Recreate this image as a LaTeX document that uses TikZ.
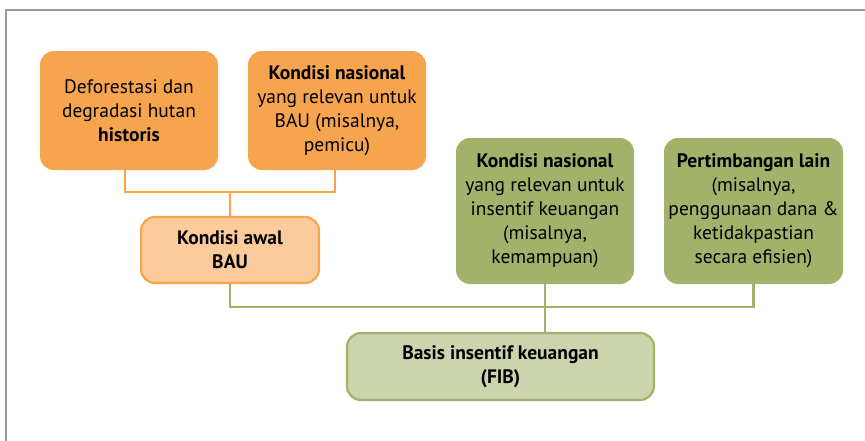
\documentclass[tikz,border=0pt]{standalone}
\usepackage{fontspec}
\setmainfont{PT Sans}
\definecolor{orng}{HTML}{F7A44F}
\definecolor{lorng}{HTML}{FBCB9B}
\definecolor{grn}{HTML}{A2B26A}
\definecolor{lgrn}{HTML}{CCD4AD}
\definecolor{frm}{HTML}{9A9A9A}
\tikzset{
  x=1pt, y=-1pt,
  txt/.style={font=\fontsize{19.5}{24}\selectfont, align=center, text=black},
  obox/.style={txt, fill=orng, draw=none, rounded corners=14pt, inner sep=0pt},
  lobox/.style={txt, fill=lorng, draw=orng, line width=2.2pt, rounded corners=14pt, inner sep=0pt},
  gbox/.style={txt, fill=grn, draw=none, rounded corners=14pt, inner sep=0pt},
  lgbox/.style={txt, fill=lgrn, draw=grn, line width=2.2pt, rounded corners=14pt, inner sep=0pt},
  olink/.style={draw=orng, line width=2.2pt},
  glink/.style={draw=grn, line width=2.2pt},
}
\begin{document}
\begin{tikzpicture}
\useasboundingbox (0,0) rectangle (865,440);
\fill[white] (0,0) rectangle (865,440);
\draw[frm, line width=1.4pt] (6,445) -- (6,10) -- (870,10);
% orange top boxes
\node[obox, minimum width=178pt, minimum height=119pt] (b1) at (129,110.5) {Deforestasi dan\\degradasi hutan\\\textbf{historis}};
\node[obox, minimum width=178pt, minimum height=119pt] (b2) at (337,110.5) {\textbf{Kondisi nasional}\\yang relevan untuk\\BAU (misalnya,\\pemicu)};
\node[lobox, minimum width=178pt, minimum height=66pt] (b3) at (230,250) {\textbf{Kondisi awal}\\\textbf{BAU}};
% green boxes
\node[gbox, minimum width=178pt, minimum height=146pt] (g1) at (545,211) {\textbf{Kondisi nasional}\\yang relevan untuk\\insentif keuangan\\(misalnya,\\kemampuan)};
\node[gbox, minimum width=179pt, minimum height=146pt] (g2) at (753.5,211) {\textbf{Pertimbangan lain}\\(misalnya,\\penggunaan dana \&\\ketidakpastian\\secara efisien)};
\node[lgbox, minimum width=307pt, minimum height=67pt] (g3) at (500.5,366.5) {\textbf{Basis insentif keuangan}\\\textbf{(FIB)}};
% orange connectors
\coordinate (oj) at (230,192);
\draw[olink] (b1.south -| 125,0) |- (oj) -| (b2.south -| 335,0);
\draw[olink] (oj) -- (b3.north);
% green connectors
\coordinate (gj) at (545,307);
\draw[glink] (b3.south) |- (gj) -| (g2.south);
\draw[glink] (g1.south) -- (g1.south |- g3.north);
\end{tikzpicture}
\end{document}
